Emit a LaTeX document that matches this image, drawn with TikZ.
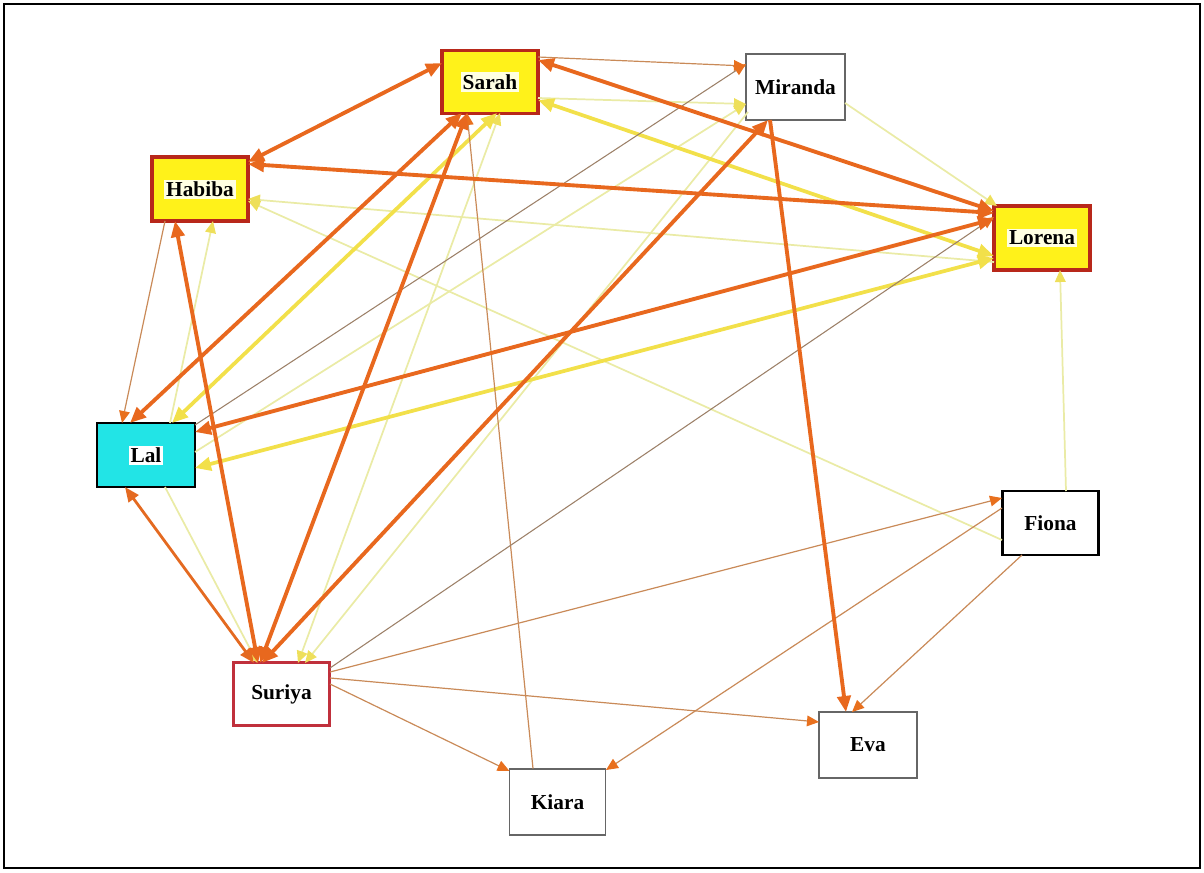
\documentclass[tikz,border=0pt]{standalone}
\usepackage{fontspec}
\setmainfont{Liberation Serif}
\usetikzlibrary{arrows.meta,calc}
\definecolor{ThickOr}{HTML}{E8681E}
\definecolor{ThinOr}{HTML}{C98A58}
\definecolor{GreyOr}{HTML}{9C8068}
\definecolor{HeadOr}{HTML}{E8701E}
\definecolor{ThickYe}{HTML}{F2E04A}
\definecolor{ThinYe}{HTML}{EAEBA6}
\definecolor{HeadYe}{HTML}{EEDF5A}
\definecolor{HubRed}{HTML}{B8281A}
\definecolor{HubFill}{HTML}{FFF21A}
\definecolor{HubText}{HTML}{FFFFE2}
\definecolor{LalCyan}{HTML}{22E4E6}
\definecolor{SurRed}{HTML}{C0303C}
\newcommand{\lbl}[2]{{\setlength{\fboxsep}{1.5pt}\colorbox{#1}{#2}}}
\begin{document}
\begin{tikzpicture}[x=0.75pt,y=-0.75pt,
  every node/.style={font=\bfseries\fontsize{16}{16}\selectfont, inner sep=0pt},
  box/.style={rectangle, minimum width=72pt, minimum height=47pt},
  hub/.style={box, draw=HubRed, line width=2.4pt, fill=HubFill},
  plain/.style={box, draw=black!60, line width=1.4pt, fill=white},
  tkor/.style={draw=ThickOr, line width=2.9pt, >={Triangle[length=12pt,width=10pt]}},
  mdor/.style={draw=ThickOr!90!brown, line width=2.1pt, >={Triangle[length=11pt,width=9pt]}},
  tnor/.style={draw=ThinOr, line width=0.9pt, >={Triangle[length=9pt,width=8pt,color=HeadOr]}},
  tngr/.style={draw=GreyOr, line width=0.8pt, >={Triangle[length=9pt,width=8pt,color=HeadOr]}},
  tkye/.style={draw=ThickYe, line width=2.8pt, >={Triangle[length=12pt,width=10pt]}},
  tnye/.style={draw=ThinYe, line width=1.3pt, >={Triangle[length=9pt,width=8pt,color=HeadYe]}}
]
\useasboundingbox (0,0) rectangle (1204,872);
\draw[line width=1.2pt] (4,4) rectangle (1200,868);

% nodes
\node[hub] (Sarah) at (490,82) {\lbl{HubText}{Sarah}};
\node[plain, minimum width=74pt, minimum height=49.5pt] (Miranda) at (795.5,87) {Miranda};
\node[hub, minimum height=48pt] (Habiba) at (200,189) {\lbl{HubText}{Habiba}};
\node[hub, minimum height=48pt] (Lorena) at (1042,238) {\lbl{HubText}{Lorena}};
\node[box, draw=black, line width=1.8pt, fill=white, minimum height=48pt] (Fiona) at (1050.5,523) {Fiona};
\node[box, draw=black, line width=1.8pt, fill=LalCyan, minimum width=73.5pt, minimum height=48pt] (Lal) at (146,455) {\lbl{white}{Lal}};
\node[box, draw=SurRed, line width=2.2pt, fill=white] (Suriya) at (281.5,694) {Suriya};
\node[plain, minimum width=73.5pt, minimum height=49.5pt] (Eva) at (868,745) {Eva};
\node[plain, minimum height=50pt] (Kiara) at (557.5,802) {Kiara};

% thin yellow edges
\draw[tnye,->] ($(Sarah)+(48,16)$) -- ($(Miranda)+(-49.5,17)$);
\draw[tnye,->] ($(Lal)+(49,-3)$) -- ($(Miranda)+(-49.5,17)$);
\draw[tnye,->] ($(Lal)+(24,-32)$) -- ($(Habiba)+(13,32)$);
\draw[tnye,->] ($(Lorena)+(-48,24)$) -- ($(Habiba)+(48,10)$);
\draw[tnye,->] ($(Fiona)+(-48.5,17)$) -- ($(Habiba)+(48,12)$);
\draw[tnye,->] ($(Fiona)+(15.5,-32)$) -- ($(Lorena)+(18,32)$);
\draw[tnye,<->] ($(Sarah)+(10,31)$) -- ($(Suriya)+(16.5,-31)$);
\draw[tnye,->] ($(Miranda)+(-47.5,25)$) -- ($(Suriya)+(23.5,-31)$);
\draw[tnye,->] ($(Lal)+(19,32)$) -- ($(Suriya)+(-24,-31)$);
\draw[tnye,->] ($(Miranda)+(49.5,16)$) -- ($(Lorena)+(-45,-32)$);

% thick yellow edges
\draw[tkye,<->] ($(Sarah)+(48,18)$) -- ($(Lorena)+(-48,18)$);
\draw[tkye,<->] ($(Lorena)+(-48,20)$) -- ($(Lal)+(49,13)$);
\draw[tkye,<->] ($(Lal)+(26,-32)$) -- ($(Sarah)+(7,31)$);

% thin orange edges
\draw[tnor,->] ($(Sarah)+(48,-25)$) -- ($(Miranda)+(-49.5,-21)$);
\draw[tnor,->] ($(Habiba)+(-35,32)$) -- ($(Lal)+(-24,-32)$);
\draw[tnor,->] ($(Suriya)+(48.5,-22)$) -- ($(Fiona)+(-48.5,-25)$);
\draw[tnor,->] ($(Fiona)+(-48.5,-15)$) -- ($(Kiara)+(48.5,-32)$);
\draw[tnor,->] ($(Fiona)+(-28.5,32)$) -- ($(Eva)+(-16,-33)$);
\draw[tnor,->] ($(Suriya)+(48.5,-16)$) -- ($(Eva)+(-49,-23)$);
\draw[tnor,->] ($(Suriya)+(48.5,-10)$) -- ($(Kiara)+(-48,-31)$);
\draw[tnor,->] ($(Kiara)+(-24.5,-33.5)$) -- ($(Sarah)+(-23,31)$);
\draw[tngr,->] ($(Suriya)+(48.5,-26)$) -- ($(Lorena)+(-48,-21)$);
\draw[tngr,->] ($(Lal)+(49,-30)$) -- ($(Miranda)+(-49.5,-23)$);

% thick orange edges
\draw[mdor,<->] ($(Lal)+(-21,32)$) -- ($(Suriya)+(-27.5,-31)$);
\draw[tkor,<->] ($(Habiba)+(48,-27)$) -- ($(Sarah)+(-48,-19)$);
\draw[tkor,<->] ($(Habiba)+(48,-25)$) -- ($(Lorena)+(-48,-25)$);
\draw[tkor,<->] ($(Sarah)+(48,-22)$) -- ($(Lorena)+(-48,-27)$);
\draw[tkor,<->] ($(Suriya)+(-19.5,-31)$) -- ($(Miranda)+(-27.5,33)$);
\draw[tkor,->] ($(Miranda)+(-25.5,33)$) -- ($(Eva)+(-22,-33)$);
\draw[tkor,<->] ($(Suriya)+(-21.5,-31)$) -- ($(Sarah)+(-23,31)$);
\draw[tkor,<->] ($(Lal)+(-16,-32)$) -- ($(Sarah)+(-28,31)$);
\draw[tkor,<->] ($(Lorena)+(-48,-19)$) -- ($(Lal)+(49,-23)$);
\draw[tkor,<->] ($(Habiba)+(-25,32)$) -- ($(Suriya)+(-23.5,-31)$);
\end{tikzpicture}
\end{document}
